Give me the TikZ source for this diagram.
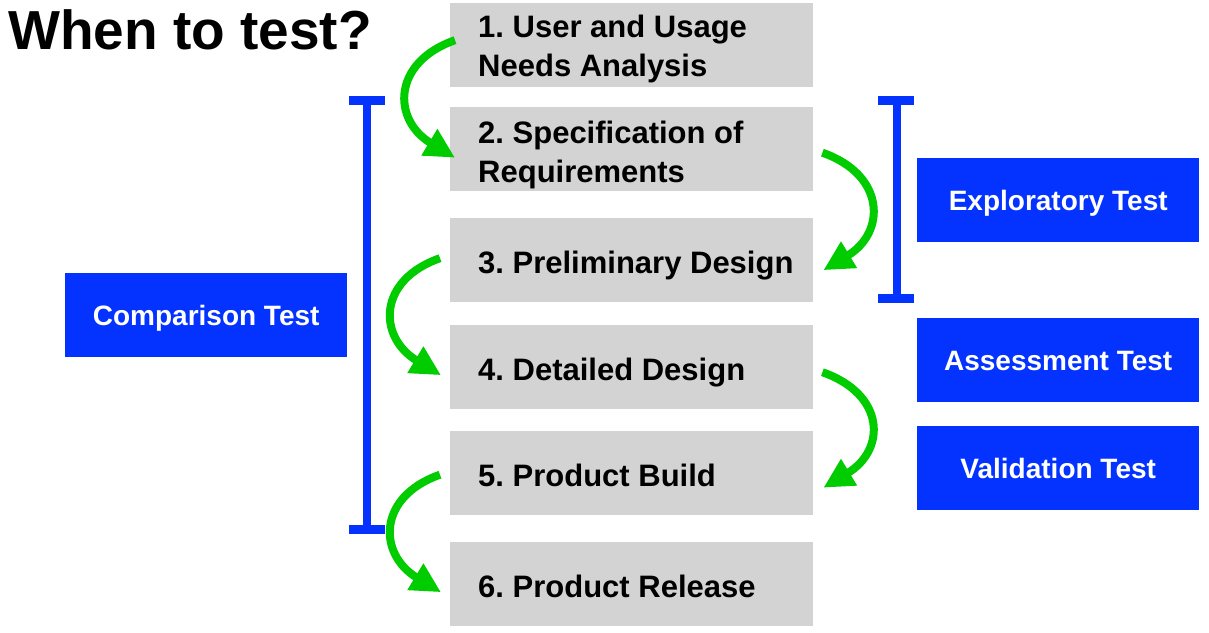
\documentclass[tikz,border=0pt]{standalone}
\usepackage{fontspec}
\setmainfont{Liberation Sans}
\usetikzlibrary{arrows.meta,calc}
\definecolor{tblue}{RGB}{4,51,255}
\definecolor{tgreen}{RGB}{0,204,0}
\definecolor{tgray}{RGB}{211,211,211}
\frenchspacing
\tikzset{
  stepbox/.style={fill=tgray, draw=none, anchor=north west, minimum width=363pt, minimum height=84pt, inner sep=0pt},
  steptext/.style={anchor=base west, align=left, inner sep=0pt, font=\bfseries\fontsize{31}{39}\selectfont},
  testbox/.style={fill=tblue, draw=none, anchor=north west, minimum width=282pt, minimum height=84pt, inner sep=0pt,
    text=white, font=\bfseries\fontsize{28}{34}\selectfont, text height=20pt, text depth=0pt},
  flow/.style={draw=tgreen, line width=8pt, -{Triangle[length=30pt,width=29pt]}},
  bar/.style={fill=tblue, draw=none}
}
\begin{document}
\frenchspacing
\begin{tikzpicture}[x=1pt,y=-1pt]
\useasboundingbox[fill=white] (0,0) rectangle (1209,632);
% title
\node[anchor=base west, inner sep=0pt, font=\bfseries\fontsize{55}{60}\selectfont] (title) at (8,49) {When to test?};
% step boxes
\node[stepbox] (b1) at (450,3) {};
\node[stepbox] (b2) at (450,107) {};
\node[stepbox] (b3) at (450,218) {};
\node[stepbox] (b4) at (450,325) {};
\node[stepbox] (b5) at (450,431) {};
\node[stepbox] (b6) at (450,542) {};
\node[steptext] (t1) at (478,76) {1. User and Usage\\Needs Analysis};
\node[steptext] (t2) at (478,182) {2. Specification of\\Requirements};
\node[steptext] (t3) at (478,273) {3. Preliminary Design};
\node[steptext] (t4) at (478,380) {4. Detailed Design};
\node[steptext] (t5) at (478,486) {5. Product Build};
\node[steptext] (t6) at (478,597) {6. Product Release};
% test boxes
\node[testbox] (comp) at (65,273) {Comparison Test};
\node[testbox] (expl) at (917,158) {Exploratory Test};
\node[testbox] (asse) at (917,318) {Assessment Test};
\node[testbox] (vali) at (917,426) {Validation Test};
% bars
\fill[bar] (363,96) rectangle (371,534);
\fill[bar] (349,96) rectangle (385,105);
\fill[bar] (349,525) rectangle (385,534);
\fill[bar] (893,96) rectangle (901,303);
\fill[bar] (878,96) rectangle (914,105);
\fill[bar] (878,294) rectangle (914,303);
% arrows
\draw[flow] ($(b1.west)+(5,-5)$) .. controls +(-63,22) and +(-63,-38) .. ($(b2.west)+(5,8.5)$);
\draw[flow] ($(b2.east)+(9,3.5)$) .. controls +(63,22) and +(63,-38) .. ($(b3.east)+(10,10)$);
\draw[flow] ($(b3.west)+(-10,-2)$) .. controls +(-63,22) and +(-63,-38) .. ($(b4.west)+(-9,8)$);
\draw[flow] ($(b4.east)+(9,5)$) .. controls +(63,22) and +(63,-38) .. ($(b5.east)+(10,14.5)$);
\draw[flow] ($(b5.west)+(-10,1.5)$) .. controls +(-63,22) and +(-63,-38) .. ($(b6.west)+(-9,8)$);
\end{tikzpicture}
\end{document}
